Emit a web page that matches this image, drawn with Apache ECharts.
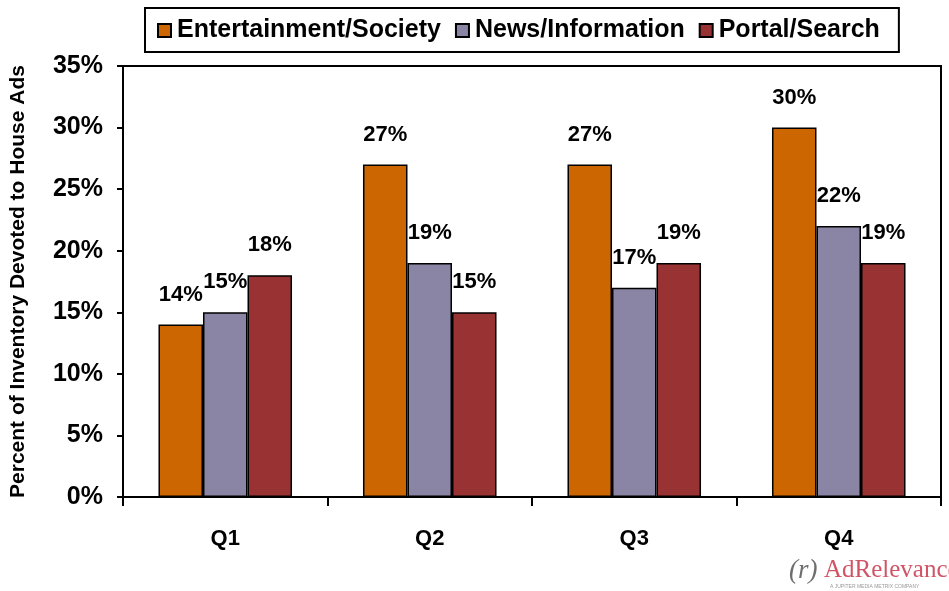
<!DOCTYPE html>
<html>
<head>
<meta charset="utf-8">
<title>House Ads by Quarter</title>
<script src="https://cdn.jsdelivr.net/npm/echarts@6/dist/echarts.min.js"></script>
<style>
  html, body { margin: 0; padding: 0; background: #fff; }
  #chart { width: 949px; height: 591px; }
</style>
</head>
<body>
<div id="chart"></div>
<script>
// Quarterly share of ad inventory devoted to house ads, by site category
const quarters = ['Q1', 'Q2', 'Q3', 'Q4'];
const seriesNames = ['Entertainment/Society', 'News/Information', 'Portal/Search'];
const entertainment = [14, 27, 27, 30];
const news = [15, 19, 17, 22];
const portal = [18, 15, 19, 19];
const yTicks = [0, 5, 10, 15, 20, 25, 30, 35];

const colors = ['#CC6600', '#8A85A5', '#993333'];
const FONT = 'Liberation Sans, Arial, sans-serif';

const chart = echarts.init(document.getElementById('chart'), null, { renderer: 'canvas' });

function barSeries(name, values, color) {
  return {
    name: name,
    type: 'bar',
    data: values,
    barGap: '0%',
    barCategoryGap: '34.7%',
    itemStyle: { color: color, borderColor: '#000', borderWidth: 1.5 },
    label: {
      show: true,
      position: 'top',
      distance: 19,
      formatter: p => p.value + '%',
      fontFamily: FONT,
      fontWeight: 'bold',
      fontSize: 22,
      color: '#000'
    },
    emphasis: { disabled: true },
    animation: false
  };
}

chart.setOption({
  animation: false,
  backgroundColor: '#fff',
  textStyle: { fontFamily: FONT },
  legend: {
    data: seriesNames,
    left: 145,
    top: 8,
    padding: [10, 19, 9, 12],
    borderColor: '#000',
    borderWidth: 2,
    itemWidth: 13,
    itemHeight: 13,
    itemGap: 14,
    icon: 'rect',
    textStyle: { fontFamily: FONT, fontWeight: 'bold', fontSize: 25, color: '#000', padding: [0, 0, 0, 1] }
  },
  grid: {
    left: 123, right: 8, top: 66, bottom: 94,
    show: true, borderColor: '#000', borderWidth: 2, backgroundColor: '#fff'
  },
  xAxis: {
    type: 'category',
    data: quarters,
    axisLine: { lineStyle: { color: '#000', width: 2 } },
    axisTick: { show: true, length: 9, lineStyle: { color: '#000', width: 2 } },
    axisLabel: { margin: 31, fontFamily: FONT, fontWeight: 'bold', fontSize: 22, color: '#000' },
    splitLine: { show: false }
  },
  yAxis: {
    type: 'value',
    min: yTicks[0],
    max: yTicks[yTicks.length - 1],
    interval: 5,
    name: 'Percent of Inventory Devoted to House Ads',
    nameLocation: 'middle',
    nameGap: 94,
    nameTextStyle: { fontFamily: FONT, fontWeight: 'bold', fontSize: 21, color: '#000' },
    axisLine: { show: true, lineStyle: { color: '#000', width: 2 } },
    axisTick: { show: true, length: 6, lineStyle: { color: '#000', width: 2 } },
    axisLabel: { margin: 20, formatter: v => v + '%', fontFamily: FONT, fontWeight: 'bold', fontSize: 25, color: '#000' },
    splitLine: { show: false }
  },
  series: [
    barSeries(seriesNames[0], entertainment, colors[0]),
    barSeries(seriesNames[1], news, colors[1]),
    barSeries(seriesNames[2], portal, colors[2])
  ],
  graphic: [
    {
      type: 'text', left: 789, top: 557,
      style: { text: '(r)', font: 'italic 27px "Liberation Serif", "DejaVu Serif", serif', fill: '#555', opacity: 0.85 }
    },
    {
      type: 'text', left: 824, top: 558,
      style: { text: 'AdRelevance', font: '25px "Liberation Serif", "DejaVu Serif", serif', fill: '#C8364A', opacity: 0.85 }
    },
    {
      type: 'text', left: 830, top: 584,
      style: { text: 'A JUPITER MEDIA METRIX COMPANY', font: '5px "Liberation Sans", sans-serif', fill: '#999' }
    }
  ]
});
</script>
</body>
</html>
